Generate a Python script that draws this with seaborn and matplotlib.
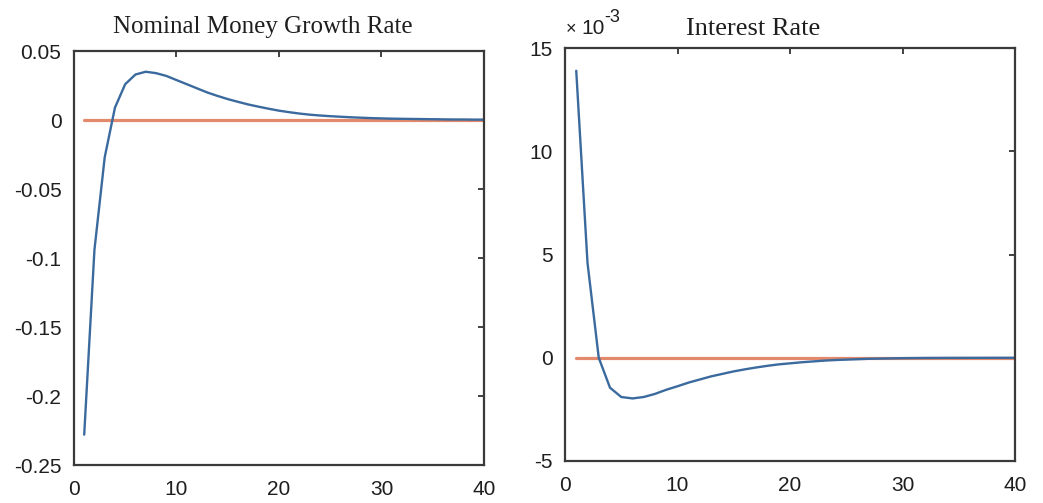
import numpy as np
import pandas as pd
import seaborn as sns
import matplotlib
matplotlib.use("Agg")
import matplotlib.pyplot as plt
from matplotlib.ticker import FuncFormatter, FixedLocator

sns.set_theme(style="white")
plt.rcParams['font.family'] = ['Liberation Sans', 'DejaVu Sans']

# ---- data ----
periods = list(range(1, 41))
money_growth = [-0.228, -0.094, -0.027, 0.009, 0.026, 0.033, 0.035, 0.034, 0.032, 0.029,
                0.026, 0.023, 0.020, 0.0175, 0.0152, 0.0132, 0.0113, 0.0097, 0.0082, 0.0068,
                0.0057, 0.0047, 0.0039, 0.0033, 0.0028, 0.0024, 0.0020, 0.0017, 0.0014, 0.0012,
                0.0010, 0.0009, 0.0008, 0.0007, 0.0006, 0.0005, 0.0004, 0.0004, 0.0003, 0.0003]
interest_rate = [13.9e-3, 4.6e-3, 0.0e-3, -1.45e-3, -1.9e-3, -1.97e-3, -1.9e-3, -1.75e-3, -1.55e-3, -1.38e-3,
                 -1.20e-3, -1.05e-3, -0.90e-3, -0.78e-3, -0.66e-3, -0.56e-3, -0.47e-3, -0.39e-3, -0.32e-3, -0.27e-3,
                 -0.22e-3, -0.18e-3, -0.14e-3, -0.11e-3, -0.09e-3, -0.07e-3, -0.05e-3, -0.04e-3, -0.03e-3, -0.02e-3,
                 -0.015e-3, -0.01e-3, -0.008e-3, -0.006e-3, -0.005e-3, -0.004e-3, -0.003e-3, -0.002e-3, -0.002e-3, -0.001e-3]
steady_state = [0.0] * 40
titles = ["Nominal Money Growth Rate", "Interest Rate"]
x_ticks = [0, 10, 20, 30, 40]
left_yticks = [-0.25, -0.2, -0.15, -0.1, -0.05, 0, 0.05]
right_yticks = [-0.005, 0, 0.005, 0.010, 0.015]

BLUE = "#3B6A9E"
ORANGE = "#E38A6C"
TXT = "#1e1e1e"

fig = plt.figure(figsize=(10.43, 5.03), dpi=100)
ax1 = fig.add_axes([0.0709, 0.0755, 0.3931, 0.823])
ax2 = fig.add_axes([0.5417, 0.0835, 0.4315, 0.821])

df1 = pd.DataFrame({"t": periods, "y": money_growth, "z": steady_state})
df2 = pd.DataFrame({"t": periods, "y": interest_rate, "z": steady_state})

for ax, df in [(ax1, df1), (ax2, df2)]:
    sns.lineplot(data=df, x="t", y="z", ax=ax, color=ORANGE, linewidth=2.3)
    sns.lineplot(data=df, x="t", y="y", ax=ax, color=BLUE, linewidth=1.7)
    ax.set_xlim(0, 40)
    ax.xaxis.set_major_locator(FixedLocator(x_ticks))
    ax.set_xlabel("")
    ax.set_ylabel("")
    ax.tick_params(direction="in", length=4, width=1.3, top=True, right=True,
                   labelsize=15, colors="#333333", labelcolor=TXT)
    ax.tick_params(axis="y", pad=9)
    ax.tick_params(axis="x", pad=11)
    for s in ax.spines.values():
        s.set_visible(True)
        s.set_linewidth(1.6)
        s.set_color("#3a3a3a")
    ax.set_facecolor("white")

ax1.set_ylim(-0.25, 0.05)
ax1.yaxis.set_major_locator(FixedLocator(left_yticks))
ax1.yaxis.set_major_formatter(FuncFormatter(lambda v, p: ("%g" % round(v, 4)) if abs(v) > 1e-12 else "0"))

ax2.set_ylim(-0.005, 0.015)
ax2.yaxis.set_major_locator(FixedLocator(right_yticks))
ax2.yaxis.set_major_formatter(FuncFormatter(lambda v, p: "%d" % round(v * 1000)))

# scale factor label (MATLAB style)
fig.text(566 / 1043, 1 - 34 / 503, "\u00d7", fontsize=13, color=TXT, ha="left", va="baseline")
fig.text(581 / 1043, 1 - 34 / 503, "10", fontsize=15, color=TXT, ha="left", va="baseline")
fig.text(604 / 1043, 1 - 22 / 503, "-3", fontsize=13, color=TXT, ha="left", va="baseline")

# titles (placed as in the reference)
tr1 = matplotlib.transforms.blended_transform_factory(ax1.transAxes, fig.transFigure)
tr2 = matplotlib.transforms.blended_transform_factory(ax2.transAxes, fig.transFigure)
ax1.text(0.461, 1 - 33 / 503, titles[0], transform=tr1,
         fontsize=18, family="Liberation Serif", color=TXT, ha="center", va="baseline")
ax2.text(0.417, 1 - 35 / 503, titles[1], transform=tr2,
         fontsize=19, family="Liberation Serif", color=TXT, ha="center", va="baseline")

fig.savefig("out.png", dpi=100, facecolor="white")
